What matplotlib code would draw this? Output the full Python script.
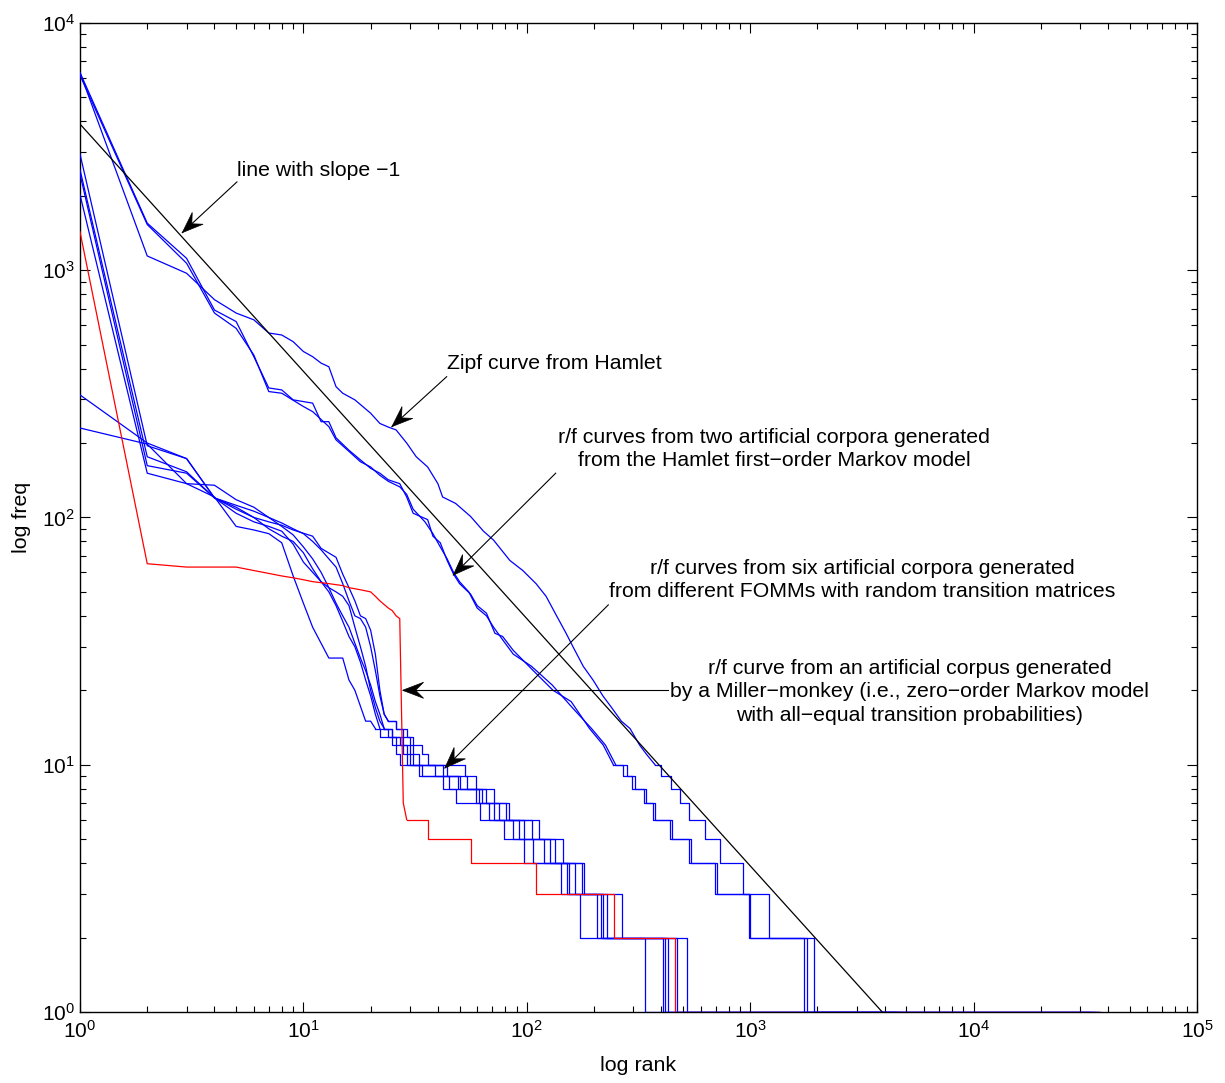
import numpy as np
import matplotlib.pyplot as plt
from matplotlib.patches import Polygon
from matplotlib.transforms import IdentityTransform

plt.rcParams['font.family'] = ['Liberation Sans', 'DejaVu Sans']
plt.rcParams['mathtext.fontset'] = 'custom'
plt.rcParams['mathtext.rm'] = 'Liberation Sans'
plt.rcParams['mathtext.it'] = 'Liberation Sans:italic'

# --- Hamlet (real text) ---
hamlet_r = [1, 2, 3, 4, 5, 6, 7, 8, 9, 10, 11, 12, 13, 14, 15, 17, 20, 22, 24, 26, 29, 32, 36, 40,
            42, 48, 56, 64, 71, 84, 96, 110, 122, 136, 150, 161, 179, 198, 219, 240, 265, 290, 320, 344]
hamlet_f = [6300, 1142, 972, 760, 671, 630, 557, 547, 514, 469, 447, 421, 407, 338, 318, 299, 264, 240,
            232, 226, 200, 176, 160, 137, 121, 114, 101, 88, 81, 67, 61, 54, 48, 40, 34, 30, 25, 22, 19,
            17, 15, 14, 12, 11]
hamlet_step_r = [375, 400, 444, 485, 530, 628, 730, 925, 1220, 1930, 4700]
hamlet_step_f = [10, 9, 8, 7, 6, 5, 4, 3, 2, 1, 1]

# --- two artificial corpora from the Hamlet first-order Markov model ---
markA_r = [1, 2, 3, 4, 5, 6, 7, 8, 9, 11, 12, 13, 14, 16, 18, 20, 22, 24, 27, 29, 31, 36, 38, 41, 44,
           47, 50, 56, 60, 66, 72, 78, 87, 107, 131, 158, 191, 220]
markA_f = [6300, 1550, 1117, 690, 620, 447, 334, 328, 299, 290, 244, 244, 210, 187, 171, 158, 151, 142,
           137, 121, 104, 98, 84, 79, 67, 59, 54, 49, 44, 41, 34, 33, 29, 24, 20, 18, 14, 12]
markA_step_r = [244, 270, 295, 334, 367, 437, 535, 695, 985, 1750, 4400]
markA_step_f = [10, 9, 8, 7, 6, 5, 4, 3, 2, 1, 1]

markB_r = [1, 2, 3, 4, 5, 6, 7, 8, 10, 11, 13, 14, 16, 18, 20, 22, 24, 27, 29, 31, 35, 38, 41, 44, 47,
           50, 55, 60, 66, 71, 78, 87, 105, 130, 160, 195, 225]
markB_f = [6150, 1530, 1067, 671, 582, 454, 323, 318, 281, 268, 233, 206, 185, 168, 160, 148, 140, 133,
           124, 108, 96, 86, 76, 68, 60, 55, 50, 43, 40, 36, 32, 28, 25, 21, 17, 14, 12]
markB_step_r = [250, 280, 305, 340, 375, 445, 545, 710, 1000, 1790, 4500]
markB_step_f = [10, 9, 8, 7, 6, 5, 4, 3, 2, 1, 1]

# --- six FOMMs with random transition matrices ---
fomm1_r = [1, 2, 3, 4, 5, 6, 7, 8, 9, 11, 12, 14, 15, 16, 17, 18, 19, 20, 21, 22, 23]
fomm1_f = [2950, 195, 173, 120, 110, 100, 96, 93, 89, 84, 75, 69, 59, 52, 46, 40, 39, 35, 28, 20, 16]
fomm1_step_r = [24, 26, 29, 31, 34, 36, 53, 59, 71, 83, 113, 146, 180, 266, 520, 36800]
fomm1_step_f = [15, 14, 13, 12, 11, 10, 9, 8, 7, 6, 5, 4, 3, 2, 1, 1]

fomm2_r = [1, 2, 3, 4, 5, 6, 7, 8, 9, 10, 11, 13, 15, 16, 17, 19, 20]
fomm2_f = [2020, 151, 137, 121, 92, 89, 86, 79, 58, 45, 36, 27, 27, 22, 20, 15, 15]
fomm2_step_r = [21, 22, 25, 26, 27, 33, 42, 48, 62, 79, 97, 143, 173, 338, 37000]
fomm2_step_f = [14, 13, 12, 11, 10, 9, 8, 7, 6, 5, 4, 3, 2, 1, 1]

fomm3_r = [1, 2, 3, 4, 5, 6, 7, 8, 9, 10, 11, 12, 13, 14, 15, 16, 17, 18, 19, 20, 21]
fomm3_f = [2550, 176, 153, 120, 108, 100, 90, 84, 80, 72, 62, 55, 50, 44, 38, 33, 30, 26, 22, 19, 16]
fomm3_step_r = [22, 24, 26, 28, 29, 34, 45, 59, 68, 87, 107, 151, 206, 408, 34000]
fomm3_step_f = [14, 13, 12, 11, 10, 9, 8, 7, 6, 5, 4, 3, 2, 1, 1]

fomm4_r = [1, 2, 3, 4, 5, 6, 7, 8, 9, 10, 11, 12, 13, 14, 15, 16, 17, 18, 19, 20, 21, 22]
fomm4_f = [2450, 162, 151, 120, 104, 96, 92, 88, 78, 66, 60, 55, 52, 50, 48, 44, 36, 30, 25, 20, 17, 15]
fomm4_step_r = [23, 25, 28, 30, 31, 42, 50, 63, 75, 97, 127, 164, 220, 430, 33000]
fomm4_step_f = [14, 13, 12, 11, 10, 9, 8, 7, 6, 5, 4, 3, 2, 1, 1]

fomm5_r = [1, 2, 3, 4, 5, 6, 7, 8, 9, 10, 11, 12, 13, 14, 15, 16, 17, 18, 19, 20, 21, 22, 23]
fomm5_f = [313, 200, 173, 120, 112, 106, 100, 95, 90, 86, 80, 74, 68, 63, 54, 46, 40, 39, 36, 30, 24, 19, 16]
fomm5_step_r = [24, 26, 28, 30, 31, 33, 44, 54, 66, 81, 105, 134, 176, 228, 470, 36000]
fomm5_step_f = [15, 14, 13, 12, 11, 10, 9, 8, 7, 6, 5, 4, 3, 2, 1, 1]

fomm6_r = [1, 2, 3, 4, 5, 6, 7, 8, 9, 10, 11, 12, 13, 14, 15, 16, 17, 18, 19, 20, 21, 22]
fomm6_f = [230, 198, 137, 135, 118, 110, 100, 92, 85, 76, 68, 60, 52, 45, 40, 36, 31, 27, 24, 21, 18, 16]
fomm6_step_r = [23, 25, 27, 29, 30, 39, 49, 61, 71, 92, 119, 155, 215, 416, 35000]
fomm6_step_f = [14, 13, 12, 11, 10, 9, 8, 7, 6, 5, 4, 3, 2, 1, 1]

# --- Miller monkey ---
monkey_r = [1, 2, 3, 5, 6, 8, 9, 10, 11, 13, 15, 16, 18, 20, 21, 22, 24, 25, 26, 27, 28]
monkey_f = [1430, 65, 63, 63, 61, 58, 57, 56, 55, 54, 53, 52, 51, 50, 48, 46, 43, 42, 40, 39, 7]
monkey_step_r = [29, 36, 56, 110, 245, 461, 36500]
monkey_step_f = [6, 5, 4, 3, 2, 1, 1]

# line with slope -1
slope_r = [1, 3900]
slope_f = [3900, 1]

fig = plt.figure(figsize=(12.25, 10.83), dpi=100)
ax = fig.add_axes([0.0653, 0.0656, 0.9118, 0.9132])


def draw(r, f, sr, sf, color):
    ax.plot(list(r) + [sr[0]], list(f) + [sf[0]], color=color, lw=0.9, zorder=3)
    ax.plot(sr, sf, color=color, lw=0.9, drawstyle='steps-post', zorder=3)


draw(fomm1_r, fomm1_f, fomm1_step_r, fomm1_step_f, 'blue')
draw(fomm2_r, fomm2_f, fomm2_step_r, fomm2_step_f, 'blue')
draw(fomm3_r, fomm3_f, fomm3_step_r, fomm3_step_f, 'blue')
draw(fomm4_r, fomm4_f, fomm4_step_r, fomm4_step_f, 'blue')
draw(fomm5_r, fomm5_f, fomm5_step_r, fomm5_step_f, 'blue')
draw(fomm6_r, fomm6_f, fomm6_step_r, fomm6_step_f, 'blue')
draw(monkey_r, monkey_f, monkey_step_r, monkey_step_f, 'red')
draw(markA_r, markA_f, markA_step_r, markA_step_f, 'blue')
draw(markB_r, markB_f, markB_step_r, markB_step_f, 'blue')
draw(hamlet_r, hamlet_f, hamlet_step_r, hamlet_step_f, 'blue')
ax.plot(slope_r, slope_f, color='black', lw=0.9, zorder=3)

ax.set_xscale('log')
ax.set_yscale('log')
ax.set_xlim(1, 1e5)
ax.set_ylim(1, 1e4)
ax.set_xticks([1, 10, 100, 1e3, 1e4, 1e5])
ax.set_xticklabels(['$10^{%d}$' % i for i in range(6)])
ax.set_yticks([1, 10, 100, 1e3, 1e4])
ax.set_yticklabels(['$10^{%d}$' % i for i in range(5)])
ax.tick_params(which='both', direction='in', top=True, right=True, labelsize=15)
ax.tick_params(axis='x', which='major', pad=6)
ax.tick_params(which='major', length=7, width=0.8)
ax.tick_params(which='minor', length=4, width=0.8)
for s in ax.spines.values():
    s.set_linewidth(1.0)

ax.set_xlabel('log rank', fontsize=15.4, labelpad=10)
ax.set_ylabel('log freq', fontsize=15.4, labelpad=8)


def arrow(tip, tail):
    # straight shaft plus a swept (concave) head, sized in pixels
    ax.plot([tail[0], tip[0]], [tail[1], tip[1]], color='black', lw=0.8, zorder=4)
    p0 = ax.transData.transform(tip)
    p1 = ax.transData.transform(tail)
    d = (p1 - p0) / np.hypot(*(p1 - p0))
    n = np.array([-d[1], d[0]])
    pts = [p0, p0 + 21 * d + 8 * n, p0 + 13 * d, p0 + 21 * d - 8 * n]
    ax.add_patch(Polygon(pts, closed=True, transform=IdentityTransform(),
                         facecolor='black', edgecolor='black', lw=0.5, zorder=5, clip_on=False))


fs = 15.3

arrow((2.87, 1419), (5.04, 2275))
ax.text(5.04, 2542, 'line with slope \u22121', fontsize=fs, ha='left', va='center')

arrow((24.9, 233), (43.8, 371))
ax.text(43.8, 418, 'Zipf curve from Hamlet', fontsize=fs, ha='left', va='center')

arrow((46.9, 58.5), (134.7, 151))
ax.text(1279, 189, 'r/f curves from two artificial corpora generated\nfrom the Hamlet first\u2212order Markov model',
        fontsize=fs, ha='center', va='center', multialignment='center', linespacing=1.3)

arrow((43, 9.7), (231.7, 44.3))
ax.text(3166, 55.9, 'r/f curves from six artificial corpora generated\nfrom different FOMMs with random transition matrices',
        fontsize=fs, ha='center', va='center', multialignment='center', linespacing=1.3)

arrow((27.8, 20), (429.7, 20))
ax.text(5190, 19.7, 'r/f curve from an artificial corpus generated\nby a Miller\u2212monkey (i.e., zero\u2212order Markov model\nwith all\u2212equal transition probabilities)',
        fontsize=fs, ha='center', va='center', multialignment='center', linespacing=1.3)

fig.savefig('out.png', dpi=100)
